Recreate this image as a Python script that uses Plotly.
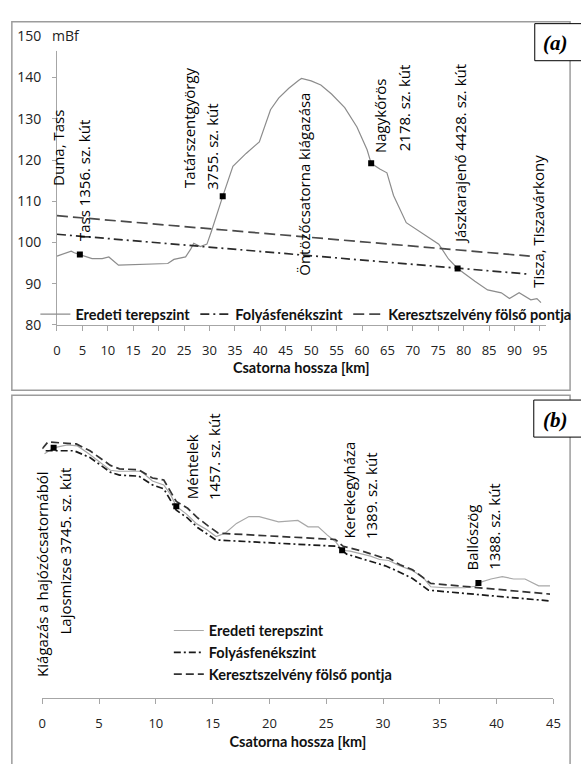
import plotly.graph_objects as go

W, H = 581, 764

# ---------------- Panel (a) data ----------------
a_terrain_km = [0.0, 2.8, 3.4, 4.5, 6.9, 8.9, 10.2, 12.1, 14.9, 19.2, 21.8, 23.0, 25.3, 26.3, 26.9,
                28.2, 29.5, 30.4, 31.4, 32.6, 34.6, 37.2, 39.8, 42.0, 43.6, 45.6, 47.5, 48.1, 50.0,
                51.9, 54.0, 56.6, 59.0, 61.0, 61.8, 63.5, 64.9, 66.2, 68.7, 71.2, 75.1, 77.0, 78.8,
                82.2, 84.7, 87.4, 89.0, 90.9, 93.2, 94.4, 95.2]
a_terrain_m = [96.7, 97.9, 97.5, 97.1, 96.1, 96.1, 96.5, 94.5, 94.6, 94.9, 94.9, 95.9, 96.5, 98.4, 99.8,
               99.0, 99.6, 102.8, 106.7, 111.2, 118.5, 121.6, 124.4, 132.2, 135.0, 137.4, 139.3, 139.8, 139.2,
               138.2, 136.0, 132.7, 128.0, 122.5, 119.2, 117.8, 116.9, 111.4, 104.8, 102.7, 99.6, 96.0, 93.7,
               90.6, 88.5, 87.8, 86.4, 87.8, 86.1, 86.4, 85.4]
a_bed_km = [0.0, 93.0]
a_bed_m = [102.0, 92.3]
a_top_km = [0.0, 93.0]
a_top_m = [106.5, 96.7]
a_well_km = [4.5, 32.6, 61.8, 78.8]
a_well_m = [97.1, 111.2, 119.2, 93.7]
a_xticks = list(range(0, 96, 5))
a_yticks = [80, 90, 100, 110, 120, 130, 140, 150]
a_labels = ["Duna, Tass", "Tass 1356. sz. kút", "Tatárszentgyörgy", "3755. sz. kút",
            "Öntözőcsatorna kiágazása", "Nagykőrös", "2178. sz. kút",
            "Jászkarajenő 4428. sz. kút", "Tisza, Tiszavárkony"]

# ---------------- Panel (b) data ----------------
b_terrain_km = [0.2, 1.0, 2.2, 3.1, 4.1, 5.0, 6.0, 6.7, 7.9, 8.7, 9.7, 10.7, 11.3, 11.8, 12.7, 13.6,
                14.5, 15.3, 16.1, 17.1, 18.2, 19.1, 20.8, 21.7, 22.5, 23.4, 24.3, 25.1, 25.8, 26.4,
                27.1, 28.0, 28.9, 29.7, 30.5, 31.3, 32.6, 33.5, 34.2, 35.5, 37.2, 38.1, 38.4, 39.5,
                40.5, 41.5, 42.5, 43.7, 44.7]
b_terrain_m = [130.2, 131.4, 132.0, 131.8, 130.2, 128.6, 126.8, 126.6, 126.6, 126.6, 124.6, 123.8, 121.8,
               119.4, 117.8, 115.8, 114.6, 113.2, 113.9, 115.9, 117.3, 117.3, 116.2, 116.3, 116.5, 115.2,
               115.2, 113.5, 112.2, 110.4, 110.2, 109.7, 109.2, 108.5, 108.3, 107.4, 106.2, 104.9, 102.9,
               102.7, 102.7, 103.0, 103.7, 104.5, 105.0, 104.5, 104.5, 103.1, 103.1]
b_bed_km = [0.3, 2.8, 4.2, 6.0, 6.8, 8.5, 9.7, 10.7, 11.8, 12.8, 13.7, 14.6, 15.3, 26.0, 26.8, 28.5,
            30.2, 31.2, 32.6, 34.0, 44.7]
b_bed_m = [130.8, 130.8, 129.4, 126.4, 125.8, 125.6, 123.8, 123.0, 118.6, 117.0, 115.0, 113.6, 112.5,
           111.2, 109.6, 108.4, 107.2, 106.2, 104.6, 102.2, 100.0]
b_top_km = [0.0, 0.5, 3.0, 4.2, 6.0, 6.8, 8.5, 9.7, 10.7, 11.8, 12.8, 13.7, 14.6, 15.5, 25.8, 26.5,
            28.2, 29.8, 30.5, 31.5, 32.6, 34.2, 44.7]
b_top_m = [131.2, 132.6, 132.2, 130.8, 127.8, 127.1, 126.9, 125.2, 124.8, 120.4, 119.0, 117.0, 115.4,
           113.9, 112.6, 111.2, 110.2, 109.0, 108.8, 107.4, 106.4, 103.6, 101.4]
b_well_km = [1.0, 11.8, 26.4, 38.4]
b_well_m = [131.4, 119.4, 110.4, 103.7]
b_xticks = list(range(0, 46, 5))
b_labels = ["Kiágazás a hajózócsatornából", "Lajosmizse 3745. sz. kút", "Méntelek", "1457. sz. kút",
            "Kerekegyháza", "1389. sz. kút", "Ballószög", "1388. sz. kút"]

series_names = ["Eredeti terepszint", "Folyásfenékszint", "Keresztszelvény fölső pontja"]

FONT = "'Open Sans', Lato, sans-serif"
BOLD_FONT = "Lato, 'Open Sans', sans-serif"


def px(x):
    return x / W


def py(y):
    return 1 - y / H


fig = go.Figure()

# panel (a)
fig.add_trace(go.Scatter(x=a_terrain_km, y=a_terrain_m, mode="lines", name=series_names[0],
                         line=dict(color="#8c8c8c", width=1.2), xaxis="x", yaxis="y", legend="legend"))
fig.add_trace(go.Scatter(x=a_bed_km, y=a_bed_m, mode="lines", name=series_names[1],
                         line=dict(color="#2a2a2a", width=1.7, dash="9px,4px,2px,4px"),
                         xaxis="x", yaxis="y", legend="legend"))
fig.add_trace(go.Scatter(x=a_top_km, y=a_top_m, mode="lines", name=series_names[2],
                         line=dict(color="#4a4a4a", width=1.7, dash="11px,5px"),
                         xaxis="x", yaxis="y", legend="legend"))
fig.add_trace(go.Scatter(x=a_well_km, y=a_well_m, mode="markers", showlegend=False,
                         marker=dict(symbol="square", size=6, color="black"), xaxis="x", yaxis="y"))

# panel (b)
fig.add_trace(go.Scatter(x=b_terrain_km, y=b_terrain_m, mode="lines", name=series_names[0],
                         line=dict(color="#a8a8a8", width=1.2), xaxis="x2", yaxis="y2", legend="legend2"))
fig.add_trace(go.Scatter(x=b_bed_km, y=b_bed_m, mode="lines", name=series_names[1],
                         line=dict(color="#1a1a1a", width=1.7, dash="7px,3px,2px,3px"),
                         xaxis="x2", yaxis="y2", legend="legend2"))
fig.add_trace(go.Scatter(x=b_top_km, y=b_top_m, mode="lines", name=series_names[2],
                         line=dict(color="#333333", width=1.7, dash="8px,4px"),
                         xaxis="x2", yaxis="y2", legend="legend2"))
fig.add_trace(go.Scatter(x=b_well_km, y=b_well_m, mode="markers", showlegend=False,
                         marker=dict(symbol="square", size=6, color="black"), xaxis="x2", yaxis="y2"))

axis_common = dict(showgrid=False, zeroline=False, showline=True, linecolor="#a6a6a6", linewidth=1,
                   ticks="outside", tickcolor="#a6a6a6")
title_font = dict(size=14.5, weight="bold", color="#111", family=BOLD_FONT)
tick_font_x = dict(size=13, color="#222")
tick_font_y = dict(size=14, color="#222")

fig.update_layout(
    width=W, height=H, margin=dict(l=0, r=0, t=0, b=0),
    paper_bgcolor="white", plot_bgcolor="rgba(0,0,0,0)",
    font=dict(family=FONT, color="#111"),
    xaxis=dict(axis_common, domain=[px(54), px(552)], range=[0, 96.1], tickvals=a_xticks, ticklen=5,
               anchor="y", ticklabelstandoff=8, tickfont=tick_font_x,
               title=dict(text="Csatorna hossza [km]", font=title_font, standoff=5)),
    yaxis=dict(axis_common, domain=[py(323), py(27)], range=[80, 150], tickvals=a_yticks, ticklen=4,
               anchor="x", ticklabelstandoff=8, tickfont=tick_font_y),
    xaxis2=dict(axis_common, domain=[px(39), px(560)], range=[0, 45], tickvals=b_xticks, ticklen=5,
                anchor="y2", ticklabelstandoff=8, tickfont=tick_font_x,
                title=dict(text="Csatorna hossza [km]", font=title_font, standoff=5)),
    yaxis2=dict(domain=[py(706), py(400)], range=[80, 141.2], visible=False, anchor="x2"),
    legend=dict(orientation="h", x=px(32), xanchor="left", y=py(312), yanchor="middle",
                font=dict(size=14.5, weight="bold", color="#111", family=BOLD_FONT),
                bgcolor="rgba(0,0,0,0)", itemwidth=30, traceorder="normal"),
    legend2=dict(orientation="v", x=px(168), xanchor="left", y=py(620), yanchor="top",
                 font=dict(size=14.5, weight="bold", color="#111", family=BOLD_FONT),
                 bgcolor="rgba(0,0,0,0)", itemwidth=30, traceorder="normal"),
)

shapes = [
    dict(type="rect", xref="paper", yref="paper", x0=px(8), x1=px(577), y0=py(12), y1=py(390),
         line=dict(color="#9c9c9c", width=1.5), fillcolor="rgba(0,0,0,0)", layer="below"),
    dict(type="rect", xref="paper", yref="paper", x0=px(8), x1=px(577), y0=py(395), y1=py(775),
         line=dict(color="#9c9c9c", width=1.5), fillcolor="rgba(0,0,0,0)", layer="below"),
    # white patch behind the "mBf" unit label
    dict(type="rect", xref="paper", yref="paper", x0=px(44), x1=px(76), y0=py(42), y1=py(14),
         line=dict(width=0), fillcolor="white", layer="above"),
    # (a) and (b) label boxes
    dict(type="rect", xref="paper", yref="paper", x0=px(541), x1=px(595), y0=py(52), y1=py(14),
         line=dict(color="black", width=1), fillcolor="white", layer="above"),
    dict(type="rect", xref="paper", yref="paper", x0=px(540), x1=px(595), y0=py(438), y1=py(400),
         line=dict(color="black", width=1), fillcolor="white", layer="above"),
]

annotations = []
# (centre x, centre y) in pixels of each rotated label
a_label_pos = [(55, 141.5), (81, 175), (188, 120.5), (212, 139.5), (305, 179), (384, 108),
               (408, 100.5), (465, 147.5), (544, 216.5)]
b_label_pos = [(38.5, 578.5), (62, 554.5), (191, 468.5), (214, 457.5), (352, 492.5), (374, 497.5),
               (477, 541), (500, 529.5)]
for t, (cx, cy) in list(zip(a_labels, a_label_pos)) + list(zip(b_labels, b_label_pos)):
    annotations.append(dict(text=t, x=px(cx), y=py(cy), xref="paper", yref="paper", textangle=-90,
                            xanchor="center", yanchor="middle", showarrow=False, borderpad=0,
                            font=dict(size=15, color="#000")))
annotations.append(dict(text="mBf", x=px(47), y=py(26), xref="paper", yref="paper", xanchor="left",
                        yanchor="middle", showarrow=False, font=dict(size=14, color="#222")))
annotations.append(dict(text="<b><i>(a)</i></b>", x=px(562), y=py(34), xref="paper", yref="paper",
                        xanchor="center", yanchor="middle", showarrow=False,
                        font=dict(size=21, family="'Liberation Serif', 'DejaVu Serif', serif",
                                  color="black")))
annotations.append(dict(text="<b><i>(b)</i></b>", x=px(562), y=py(420), xref="paper", yref="paper",
                        xanchor="center", yanchor="middle", showarrow=False,
                        font=dict(size=21, family="'Liberation Serif', 'DejaVu Serif', serif",
                                  color="black")))

fig.update_layout(shapes=shapes, annotations=annotations)

fig.write_html("out.html")
